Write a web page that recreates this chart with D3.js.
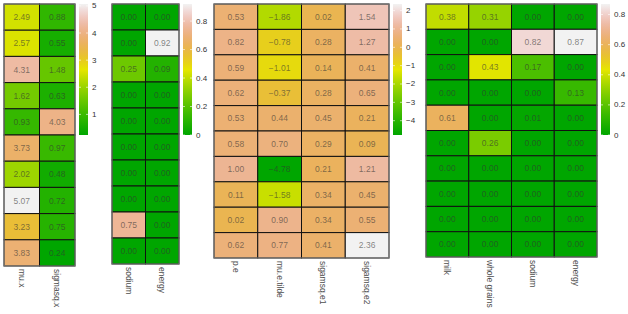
<!DOCTYPE html>
<html lang="en">
<head>
  <meta charset="UTF-8">
  <title>Heatmaps</title>
  <style>
    body { margin: 0; padding: 0; background: #fff; }
    svg { display: block; font-family: 'Liberation Sans', Arial, sans-serif; }
  </style>
</head>
<body>
<svg width="628" height="314"></svg>
<script src="https://d3js.org/d3.v7.min.js"></script>
<script>
  // columns and values (rows top to bottom) of each panel
  const cols1 = ["mu.x", "sigmasq.x"];
  const vals1 = [
    [2.49, 0.88], [2.57, 0.55], [4.31, 1.48], [1.62, 0.63], [0.93, 4.03],
    [3.73, 0.97], [2.02, 0.48], [5.07, 0.72], [3.23, 0.75], [3.83, 0.24]
  ];
  const ticks1 = [1, 2, 3, 4, 5];

  const cols2 = ["sodium", "energy"];
  const vals2 = [
    [0, 0], [0, 0.92], [0.25, 0.09], [0, 0], [0, 0],
    [0, 0], [0, 0], [0, 0], [0.75, 0], [0, 0]
  ];
  const ticks2 = [0, 0.2, 0.4, 0.6, 0.8];

  const cols3 = ["p.e", "mu.e.tilde", "sigamsq.e1", "sigamsq.e2"];
  const vals3 = [
    [0.53, -1.86, 0.02, 1.54], [0.82, -0.78, 0.28, 1.27], [0.59, -1.01, 0.14, 0.41],
    [0.62, -0.37, 0.28, 0.65], [0.53, 0.44, 0.45, 0.21], [0.58, 0.70, 0.29, 0.09],
    [1.00, -4.78, 0.21, 1.21], [0.11, -1.58, 0.34, 0.45], [0.02, 0.90, 0.34, 0.55],
    [0.62, 0.77, 0.41, 2.36]
  ];
  const ticks3 = [-4, -3, -2, -1, 0, 1, 2];

  const cols4 = ["milk", "whole grains", "sodium", "energy"];
  const vals4 = [
    [0.38, 0.31, 0, 0], [0, 0, 0.82, 0.87], [0, 0.43, 0.17, 0], [0, 0, 0, 0.13],
    [0.61, 0, 0.01, 0], [0, 0.26, 0, 0], [0, 0, 0, 0], [0, 0, 0, 0],
    [0, 0, 0, 0], [0, 0, 0, 0]
  ];
  const ticks4 = [0, 0.2, 0.4, 0.6, 0.8];

  // where each panel sits
  const layout = [
    { cols: cols1, vals: vals1, ticks: ticks1, x0: 4, x1: 75, bottom: 266, bar: 79 },
    { cols: cols2, vals: vals2, ticks: ticks2, x0: 112, x1: 179, bottom: 264, bar: 183 },
    { cols: cols3, vals: vals3, ticks: ticks3, x0: 214, x1: 389, bottom: 258, bar: 393 },
    { cols: cols4, vals: vals4, ticks: ticks4, x0: 426, x1: 597, bottom: 257, bar: 601 }
  ];

  // R terrain.colors, continuous in t = 0..1
  function hsv2rgb(h, s, v) {
    const f = n => {
      const k = (n + h / 60) % 6;
      return Math.round(255 * (v - v * s * Math.max(0, Math.min(k, 4 - k, 1))));
    };
    return [f(5), f(3), f(1)];
  }
  function terrain(t) {
    let h, s, v;
    if (t <= 0.5) {
      const u = t / 0.5;
      h = 120 - 60 * u; s = 1; v = 0.65 + 0.25 * u;
    } else {
      const u = (t - 0.5) / 0.5;
      h = 60 - 60 * u; s = 1 - u; v = 0.9 + 0.05 * u;
    }
    return d3.rgb(...hsv2rgb(h, s, v)).formatHex();
  }

  const svg = d3.select("svg");
  const gridTop = 4, barH = 131, barW = 9;
  const fmt = d3.format(".2f");
  const fmtTick = v => (v < 0 ? "\u2212" : "") + d3.format("~g")(Math.abs(v));

  layout.forEach((p, pi) => {
    const g = svg.append("g");
    const ext = d3.extent(p.vals.flat());
    const tScale = d3.scaleLinear().domain(ext).range([0, 1]);

    const x = d3.scaleBand().domain(p.cols).range([p.x0, p.x1]);
    const y = d3.scaleBand().domain(d3.range(p.vals.length)).range([gridTop, p.bottom]);

    const cells = [];
    p.vals.forEach((row, r) => row.forEach((v, c) => cells.push({ r, c, v })));

    g.selectAll("rect.cell")
      .data(cells)
      .enter()
      .append("rect")
      .attr("class", "cell")
      .attr("x", d => x(p.cols[d.c]))
      .attr("y", d => y(d.r))
      .attr("width", x.bandwidth())
      .attr("height", y.bandwidth())
      .attr("fill", d => terrain(tScale(d.v)))
      .attr("stroke", "#111")
      .attr("stroke-width", 1);

    g.selectAll("text.val")
      .data(cells)
      .enter()
      .append("text")
      .attr("class", "val")
      .attr("x", d => x(p.cols[d.c]) + x.bandwidth() / 2)
      .attr("y", d => y(d.r) + y.bandwidth() / 2)
      .attr("text-anchor", "middle")
      .attr("dominant-baseline", "central")
      .attr("font-size", 8.5)
      .attr("fill", "#333")
      .attr("fill-opacity", 0.6)
      .text(d => (d.v < 0 ? "\u2212" : "") + fmt(Math.abs(d.v)));

    g.append("rect")
      .attr("x", p.x0).attr("y", gridTop)
      .attr("width", p.x1 - p.x0).attr("height", p.bottom - gridTop)
      .attr("fill", "none")
      .attr("stroke", "#7f7f7f")
      .attr("stroke-width", 1);

    // column labels, reading downward
    g.selectAll("text.col")
      .data(p.cols)
      .enter()
      .append("text")
      .attr("class", "col")
      .attr("transform", d => `translate(${x(d) + x.bandwidth() / 2},${p.bottom + 3}) rotate(90)`)
      .attr("dominant-baseline", "central")
      .attr("font-size", 8.5)
      .attr("fill", "#4d4d4d")
      .text(d => d);

    // colour bar
    const gradId = "grad" + pi;
    const grad = svg.append("defs").append("linearGradient")
      .attr("id", gradId)
      .attr("x1", 0).attr("y1", 1).attr("x2", 0).attr("y2", 0);
    d3.range(0, 1.0001, 0.05).forEach(t => {
      grad.append("stop").attr("offset", t).attr("stop-color", terrain(t));
    });
    g.append("rect")
      .attr("x", p.bar).attr("y", gridTop)
      .attr("width", barW).attr("height", barH)
      .attr("fill", `url(#${gradId})`);

    const yb = d3.scaleLinear().domain(ext).range([gridTop + barH, gridTop]);
    const tk = g.selectAll("g.tick")
      .data(p.ticks)
      .enter()
      .append("g")
      .attr("class", "tick")
      .attr("transform", d => `translate(0,${yb(d)})`);
    tk.append("line")
      .attr("x1", p.bar).attr("x2", p.bar + 2)
      .attr("stroke", "#fff").attr("stroke-width", 0.6);
    tk.append("line")
      .attr("x1", p.bar + barW - 2).attr("x2", p.bar + barW)
      .attr("stroke", "#fff").attr("stroke-width", 0.6);
    tk.append("text")
      .attr("x", p.bar + barW + 4)
      .attr("dominant-baseline", "central")
      .attr("font-size", 8)
      .attr("fill", "#333")
      .text(d => fmtTick(d));
  });
</script>
</body>
</html>
